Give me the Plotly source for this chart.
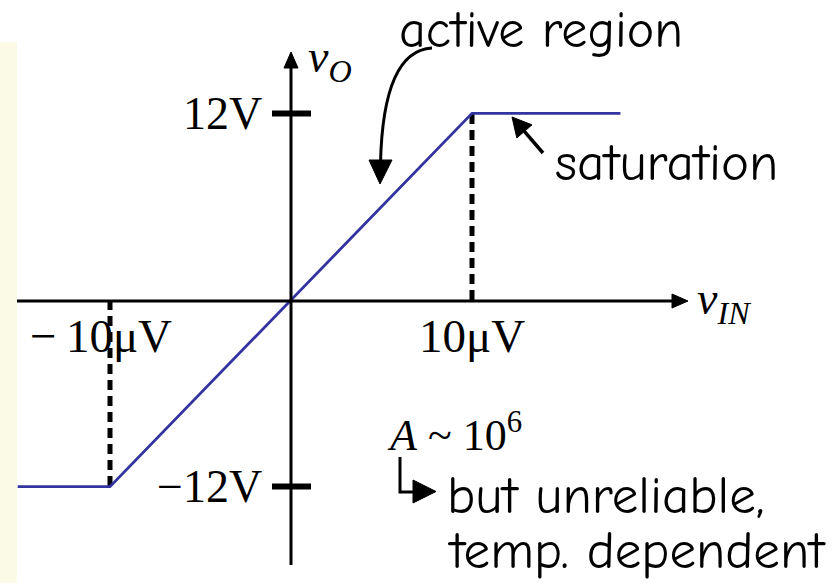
import math
import plotly.graph_objects as go

# ---- data (input voltage in µV, output voltage in V) ----
vin = [-15.1, -10, 10, 18.2]
vout = [-12, -12, 12, 12]
x_ticks = [-10, 10]
x_tick_labels = ["\u2212\u200910\u03bcV", "10\u03bcV"]
y_ticks = [12, -12]
y_tick_labels = ["12V", "\u221212V"]

W, H = 839, 583
PX0, PY0, SX, SY = 291, 300, 18.1, 15.55


def dx(px):
    return (px - PX0) / SX


def dy(py):
    return (PY0 - py) / SY


SERIF = "Liberation Serif, Times New Roman, serif"
COMIC = "Comic Sans MS, Comic Neue, Noto Sans, sans-serif"
BLUE = "#3333A0"

fig = go.Figure()

# dashed guide lines
for xv, yv in zip([-10, 10], [-12, 12]):
    fig.add_trace(go.Scatter(x=[xv, xv], y=[0, yv], mode="lines",
                             line=dict(color="black", width=5, dash="10px,6px"),
                             hoverinfo="skip", showlegend=False))

# transfer characteristic
fig.add_trace(go.Scatter(x=vin, y=vout, mode="lines",
                         line=dict(color=BLUE, width=2.8),
                         hoverinfo="skip", showlegend=False))

shapes = []
# pale yellow side panel
shapes.append(dict(type="rect", xref="paper", yref="paper", x0=0, x1=17 / W,
                   y0=0, y1=1 - 42 / H, fillcolor="#FAFAE6", line_width=0, layer="below"))


def tri(p1, p2, p3):
    return dict(type="path", xref="x", yref="y",
                path="M {},{} L {},{} L {},{} Z".format(dx(p1[0]), dy(p1[1]), dx(p2[0]), dy(p2[1]),
                                                        dx(p3[0]), dy(p3[1])),
                fillcolor="black", line=dict(color="black", width=1))


def seg(x0, y0, x1, y1, w=3):
    return dict(type="line", xref="x", yref="y", x0=dx(x0), y0=dy(y0), x1=dx(x1), y1=dy(y1),
                line=dict(color="black", width=w))


# axes
shapes.append(seg(17, 301, 674, 301, 3))
shapes.append(tri((672, 294), (672, 308), (688, 301)))
shapes.append(seg(291, 565, 291, 66, 3))
shapes.append(tri((284, 68), (298, 68), (291, 52)))

# y tick bars
for yv in y_ticks:
    shapes.append(dict(type="line", xref="x", yref="y", x0=dx(272), x1=dx(311), y0=yv, y1=yv,
                       line=dict(color="black", width=6)))

# curved "active region" arrow
shapes.append(dict(type="path", xref="x", yref="y",
                   path="M {},{} C {},{} {},{} {},{}".format(dx(432), dy(48), dx(395), dy(50),
                                                             dx(382), dy(100), dx(380.5), dy(163)),
                   line=dict(color="black", width=3)))
shapes.append(tri((369, 160), (392, 160), (380, 184)))

# saturation arrow
tip = (512, 117)
tail = (543, 153)
ddx, ddy = tip[0] - tail[0], tip[1] - tail[1]
L = math.hypot(ddx, ddy)
ux, uy = ddx / L, ddy / L
hl, hw = 19, 10
bx, by = tip[0] - hl * ux, tip[1] - hl * uy
shapes.append(seg(tail[0], tail[1], bx + 2 * ux, by + 2 * uy, 3.5))
shapes.append(tri((bx - hw * uy, by + hw * ux), (bx + hw * uy, by - hw * ux), tip))

# L-shaped arrow
shapes.append(dict(type="path", xref="x", yref="y",
                   path="M {},{} L {},{} L {},{}".format(dx(400), dy(457), dx(400), dy(492),
                                                         dx(415), dy(492)),
                   line=dict(color="black", width=3)))
shapes.append(tri((413, 480), (413, 503), (436, 491.5)))

annotations = []


def text(px, py, s, family, size, xanchor="left", yanchor="middle"):
    annotations.append(dict(x=dx(px), y=dy(py), xref="x", yref="y", text=s, showarrow=False,
                            xanchor=xanchor, yanchor=yanchor,
                            font=dict(family=family, size=size, color="black")))


# tick labels
for yv, lab in zip(y_ticks, y_tick_labels):
    annotations.append(dict(x=dx(264), y=yv, xref="x", yref="y", text=lab, showarrow=False,
                            xanchor="right", yanchor="middle",
                            font=dict(family=SERIF, size=46, color="black")))
for xv, lab, shift in zip(x_ticks, x_tick_labels, [-9, 0]):
    annotations.append(dict(x=xv, y=dy(336), xref="x", yref="y", text=lab, showarrow=False,
                            xanchor="center", yanchor="middle", xshift=shift,
                            font=dict(family=SERIF, size=47, color="black")))

# axis names
text(306, 60, "<i>v</i><sub><i>O</i></sub>", SERIF, 46)
text(695, 302, "<i>v</i><sub><i>IN</i></sub>", SERIF, 46)
text(385, 432, "<i>A</i> ~ 10<sup>6</sup>", SERIF, 44)

# comments
text(397, 30, "active region", COMIC, 52)
text(553, 162, "saturation", COMIC, 53)
text(445, 495, "but unreliable,", COMIC, 53)
text(445, 550, "temp. dependent", COMIC, 53)

fig.update_layout(
    width=W, height=H, margin=dict(l=0, r=0, t=0, b=0),
    paper_bgcolor="white", plot_bgcolor="white",
    xaxis=dict(range=[dx(0), dx(W)], visible=False, fixedrange=True),
    yaxis=dict(range=[dy(H), dy(0)], visible=False, fixedrange=True),
    shapes=shapes, annotations=annotations, showlegend=False,
)

fig.write_html("out.html", config={"displayModeBar": False},
               post_script="document.body.style.margin='0';document.body.style.overflow='hidden';")
